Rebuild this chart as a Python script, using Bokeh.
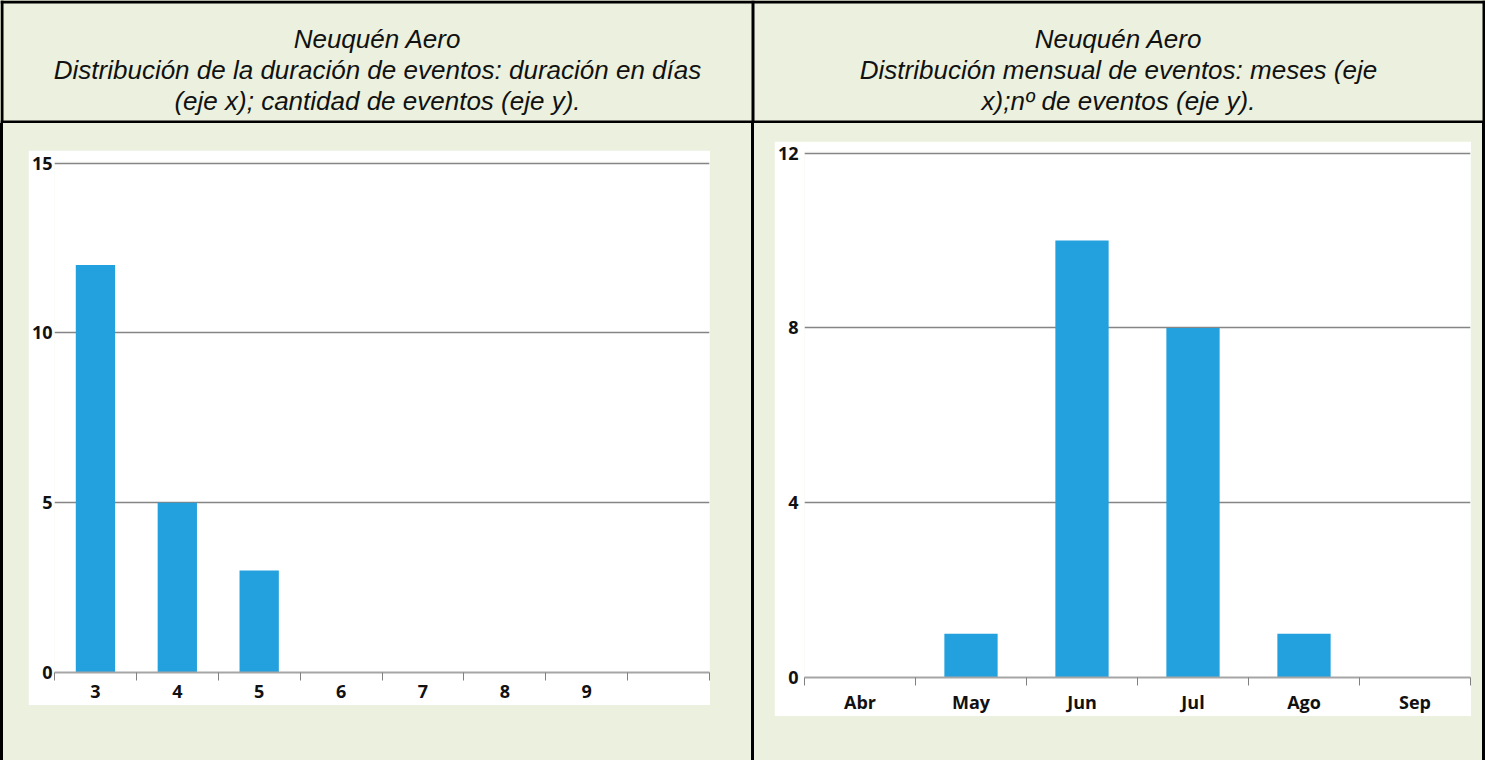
from bokeh.plotting import figure
from bokeh.models import Range1d, FixedTicker, Spacer
from bokeh.layouts import row, column
from bokeh.core.properties import value
from bokeh.embed import file_html
from bokeh.resources import INLINE

# ---------------- data ----------------
duration_labels = ["3", "4", "5", "6", "7", "8", "9"]
duration_counts = [12, 5, 3, 0, 0, 0, 0]
duration_slots = 8            # the axis keeps one empty slot after "9"
duration_yticks = [0, 5, 10, 15]

month_labels = ["Abr", "May", "Jun", "Jul", "Ago", "Sep"]
month_counts = [0, 1, 10, 8, 1, 0]
month_slots = 6
month_yticks = [0, 4, 8, 12]

title_left = ["Neuquén Aero",
              "Distribución de la duración de eventos: duración en días",
              "(eje x); cantidad de eventos (eje y)."]
title_right = ["Neuquén Aero",
               "Distribución mensual de eventos: meses (eje",
               "x);nº de eventos (eje y)."]

# ---------------- style ----------------
GREEN = "#EBF1DE"
BAR = "#22A1DE"
BORDER = "#000000"
W, H = 1485, 760
HDR_H = 123
B = 3
DIV_X = 751
ROW_H = H - HDR_H
TICK_FONT_SIZE = "18px"


def make_chart(labels, counts, nslots, yticks, w, h, ml, mr, mt, mb, xstand, ystand):
    centers = [i + 0.5 for i in range(len(labels))]
    top = yticks[-1] + (yticks[-1] - yticks[0]) * 0.003   # keep the top grid line inside the frame
    p = figure(width=w, height=h, x_range=Range1d(0, nslots),
               y_range=Range1d(yticks[0], top),
               toolbar_location=None, output_backend="svg",
               min_border_left=ml, min_border_right=mr,
               min_border_top=mt, min_border_bottom=mb)
    p.background_fill_color = "white"
    p.border_fill_color = "white"
    p.outline_line_color = None
    p.vbar(x=centers, top=counts, bottom=0, width=0.48,
           fill_color=BAR, line_color=None)
    # x axis: labels at the centres, short ticks at the slot boundaries
    xa = p.xaxis[0]
    xa.ticker = FixedTicker(ticks=centers, minor_ticks=list(range(nslots + 1)))
    xa.major_label_overrides = {c: l for c, l in zip(centers, labels)}
    xa.axis_line_color = "#A6A6A6"
    xa.axis_line_width = 2
    xa.major_tick_in = 0
    xa.major_tick_out = 0
    xa.major_tick_line_color = None
    xa.minor_tick_in = 0
    xa.minor_tick_out = 8
    xa.minor_tick_line_color = "#808080"
    xa.minor_tick_line_width = 1
    xa.major_label_standoff = xstand
    xa.major_label_text_font = "Open Sans"
    xa.major_label_text_font_style = "bold"
    xa.major_label_text_font_size = TICK_FONT_SIZE
    xa.major_label_text_color = "#111111"
    # y axis: only labels, grid lines across
    ya = p.yaxis[0]
    ya.ticker = FixedTicker(ticks=yticks, minor_ticks=[])
    ya.axis_line_color = None
    ya.major_tick_line_color = None
    ya.minor_tick_line_color = None
    ya.major_tick_in = 0
    ya.major_tick_out = 0
    ya.major_label_standoff = ystand
    ya.major_label_text_font = "Open Sans"
    ya.major_label_text_font_style = "bold"
    ya.major_label_text_font_size = TICK_FONT_SIZE
    ya.major_label_text_color = "#111111"
    p.xgrid.grid_line_color = None
    p.ygrid.grid_line_color = "#858585"
    p.ygrid.grid_line_width = 1.3
    return p


# ---------------- header row ----------------
hdr = figure(width=W, height=HDR_H, x_range=Range1d(0, W), y_range=Range1d(HDR_H, 0),
             toolbar_location=None, output_backend="svg", min_border=0,
             x_axis_location=None, y_axis_location=None)
hdr.grid.visible = False
hdr.background_fill_color = GREEN
hdr.border_fill_color = GREEN
hdr.outline_line_color = None
hdr.quad(left=[0, 0, 0, DIV_X, W - B], right=[W, W, B, DIV_X + B, W],
         top=[0, HDR_H - B, 0, 0, 0], bottom=[B, HDR_H, HDR_H, HDR_H, HDR_H],
         fill_color=BORDER, line_color=None)
left_cx = (B + DIV_X) / 2
right_cx = (DIV_X + B + W - B) / 2
baselines = [38, 69, 100]
hdr.text(x=[left_cx] * len(title_left) + [right_cx] * len(title_right),
         y=baselines[:len(title_left)] + baselines[:len(title_right)],
         text=title_left + title_right,
         text_align="center", text_baseline="alphabetic",
         text_font=value("Liberation Sans"), text_font_style="italic",
         text_font_size="26px", text_color="#111111")

# ---------------- chart row ----------------
LH, RH = 555, 575
chart_l = make_chart(duration_labels, duration_counts, duration_slots, duration_yticks,
                     682, LH, 23, 1, 11, 33, 4, 2)
chart_r = make_chart(month_labels, month_counts, month_slots, month_yticks,
                     697, RH, 24, 1, 10, 39, 4, 6)

LW = DIV_X - B           # 748
RW = W - 2 * B - DIV_X   # 728


def vline():
    return Spacer(width=B, height=ROW_H, styles={"background-color": BORDER})


cell_l = column(
    Spacer(width=LW, height=27),
    row(Spacer(width=25, height=LH), chart_l, Spacer(width=LW - 25 - 682, height=LH)),
    Spacer(width=LW, height=ROW_H - 27 - LH),
)
cell_r = column(
    Spacer(width=RW, height=18),
    row(Spacer(width=20, height=RH), chart_r, Spacer(width=RW - 20 - 697, height=RH)),
    Spacer(width=RW, height=ROW_H - 18 - RH),
)

body = row(vline(), cell_l, vline(), cell_r, vline())
page = column(hdr, body, styles={"background-color": GREEN})

open("out.html", "w").write(file_html(page, INLINE))
